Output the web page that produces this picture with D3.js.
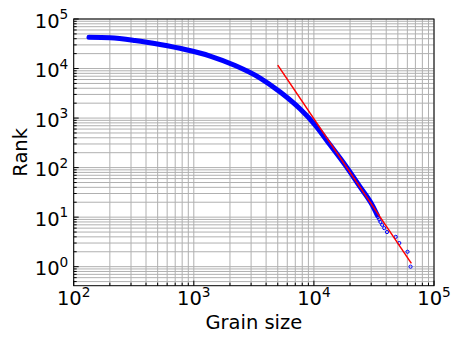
<!DOCTYPE html>
<html>
<head>
<meta charset="utf-8">
<script src="https://cdn.jsdelivr.net/npm/d3@7"></script>
<style>
  body { margin: 0; background: #fff; }
  text { font-family: "DejaVu Sans", sans-serif; fill: #000; }
</style>
</head>
<body>
<div id="chart"></div>
<script>
var svgWidth = 463;
var svgHeight = 347;

// dense part of the rank curve (grain size, rank)
var grainSize = [134, 201, 324, 524, 847, 1367, 2209, 3568, 5239, 7690, 10250, 13670, 18230, 24310, 30610, 33690];
var rank = [42700, 41710, 36790, 30520, 24200, 17890, 11500, 6430, 3352, 1520, 722, 285, 112, 40.4, 17.5, 11];

// the largest grains, drawn as single markers
var tailSize = [63800, 60200, 51400, 48000, 40600, 38500, 37000, 35800, 35000, 34200];
var tailRank = [1, 2, 3, 4, 5, 6, 7, 8, 9, 10];

// power-law fit line end points
var fitSize = [5000, 64800];
var fitRank = [11750, 1.17];

var xTickExp = [2, 3, 4, 5];
var yTickExp = [0, 1, 2, 3, 4, 5];

var plot = { left: 73.7, right: 434, top: 19, bottom: 285.7 };

var svg = d3.select("#chart")
  .append("svg")
  .attr("width", svgWidth)
  .attr("height", svgHeight);

var x = d3.scaleLog().domain([100, 1e5]).range([plot.left, plot.right]);
var y = d3.scaleLog().domain([0.413, 1e5]).range([plot.bottom, plot.top]);

// grid lines, major and minor
var xGrid = x.ticks().filter(function(d) { return d >= 100 && d <= 1e5; });
var yGrid = y.ticks().filter(function(d) { return d >= 0.413 && d <= 1e5; });

var grid = svg.append("g").attr("stroke", "#b0b0b0").attr("stroke-width", 1);
grid.selectAll("line.gx")
  .data(xGrid)
  .enter()
  .append("line")
  .attr("x1", d => x(d)).attr("x2", d => x(d))
  .attr("y1", plot.top).attr("y2", plot.bottom);
grid.selectAll("line.gy")
  .data(yGrid)
  .enter()
  .append("line")
  .attr("y1", d => y(d)).attr("y2", d => y(d))
  .attr("x1", plot.left).attr("x2", plot.right);

// dense curve
var line = d3.line()
  .x(function(d, i) { return x(grainSize[i]); })
  .y(function(d, i) { return y(rank[i]); })
  .curve(d3.curveMonotoneX);

svg.append("path")
  .datum(grainSize)
  .attr("d", line)
  .attr("fill", "none")
  .attr("stroke", "#0000ff")
  .attr("stroke-width", 5)
  .attr("stroke-linecap", "round")
  .attr("stroke-linejoin", "round");

svg.selectAll("circle.tail")
  .data(tailSize)
  .enter()
  .append("circle")
  .attr("cx", d => x(d))
  .attr("cy", (d, i) => y(tailRank[i]))
  .attr("r", 1.6)
  .attr("fill", "none")
  .attr("stroke", "#0000ff")
  .attr("stroke-width", 1);

// fit line
svg.append("line")
  .attr("x1", x(fitSize[0])).attr("y1", y(fitRank[0]))
  .attr("x2", x(fitSize[1])).attr("y2", y(fitRank[1]))
  .attr("stroke", "#ff0000")
  .attr("stroke-width", 1.5);

// inward ticks
var ticks = svg.append("g").attr("stroke", "#000").attr("stroke-width", 1);
xGrid.forEach(function(d) {
  var major = Math.abs(Math.log10(d) - Math.round(Math.log10(d))) < 1e-9;
  ticks.append("line")
    .attr("x1", x(d)).attr("x2", x(d))
    .attr("y1", plot.bottom).attr("y2", plot.bottom - (major ? 5 : 3));
});
yGrid.forEach(function(d) {
  var major = Math.abs(Math.log10(d) - Math.round(Math.log10(d))) < 1e-9;
  ticks.append("line")
    .attr("y1", y(d)).attr("y2", y(d))
    .attr("x1", plot.left).attr("x2", plot.left + (major ? 5 : 3));
});

// frame
svg.append("rect")
  .attr("x", plot.left).attr("y", plot.top)
  .attr("width", plot.right - plot.left)
  .attr("height", plot.bottom - plot.top)
  .attr("fill", "none")
  .attr("stroke", "#000")
  .attr("stroke-width", 1);

// tick labels
xTickExp.forEach(function(e) {
  var t = svg.append("text")
    .attr("x", x(Math.pow(10, e)))
    .attr("y", 305)
    .attr("text-anchor", "middle")
    .style("font-size", "19.5px");
  t.append("tspan").text("10");
  t.append("tspan").attr("dy", -8.3).style("font-size", "13.7px").text(e);
});

yTickExp.forEach(function(e) {
  var t = svg.append("text")
    .attr("x", 68.3)
    .attr("y", y(Math.pow(10, e)) + 8.5)
    .attr("text-anchor", "end")
    .style("font-size", "19.5px");
  t.append("tspan").text("10");
  t.append("tspan").attr("dy", -8.3).style("font-size", "13.7px").text(e);
});

// axis titles
svg.append("text")
  .attr("x", (plot.left + plot.right) / 2)
  .attr("y", 329.3)
  .attr("text-anchor", "middle")
  .style("font-size", "19.5px")
  .text("Grain size");

svg.append("text")
  .attr("transform", "translate(26.5," + (plot.top + plot.bottom) / 2 + ") rotate(-90)")
  .attr("text-anchor", "middle")
  .style("font-size", "19.5px")
  .text("Rank");
</script>
</body>
</html>
